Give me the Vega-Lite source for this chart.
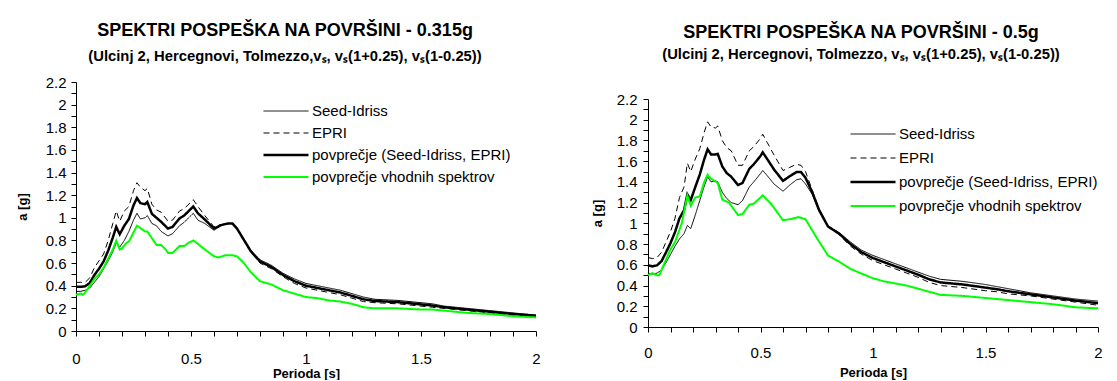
{
  "$schema": "https://vega.github.io/schema/vega-lite/v6.json",
  "background": "white",
  "padding": {"left": 16, "top": 22, "right": 5, "bottom": 0},
  "spacing": 50,
  "resolve": {
    "scale": {"color": "independent", "strokeDash": "independent", "strokeWidth": "independent"},
    "legend": {"color": "independent", "strokeDash": "independent", "strokeWidth": "independent"}
  },
  "config": {
    "font": "Liberation Sans",
    "view": {"stroke": null},
    "axis": {
      "grid": false, "domainColor": "black", "tickColor": "black", "labelColor": "black", "titleColor": "black",
      "labelFont": "Liberation Sans", "labelFontSize": 15, "titleFont": "Liberation Sans", "titleFontSize": 13,
      "titleFontWeight": "bold", "tickSize": 5, "domainWidth": 1, "tickWidth": 1, "labelOverlap": false, "labelFlush": false
    },
    "legend": {
      "labelFont": "Liberation Sans", "labelColor": "black", "symbolType": "stroke", "symbolSize": 2025,
      "labelOffset": 2, "clipHeight": 16, "padding": 0, "labelLimit": 400, "labelFontSize": 15
    },
    "title": {
      "font": "Liberation Sans", "fontSize": 18, "fontWeight": "bold", "color": "black",
      "subtitleFont": "Liberation Sans", "subtitleFontSize": 14.8, "subtitleFontWeight": "bold", "subtitleColor": "black",
      "anchor": "middle", "frame": "group"
    }
  },
  "datasets": {
    "L": [
      {"T":0,"Seed-Idriss":0.35,"EPRI":0.43,"povprečje (Seed-Idriss, EPRI)":0.39},
      {"T":0.02,"Seed-Idriss":0.35,"EPRI":0.43,"povprečje (Seed-Idriss, EPRI)":0.39},
      {"T":0.04,"Seed-Idriss":0.36,"EPRI":0.43,"povprečje (Seed-Idriss, EPRI)":0.395},
      {"T":0.06,"Seed-Idriss":0.38,"EPRI":0.47,"povprečje (Seed-Idriss, EPRI)":0.425},
      {"T":0.08,"Seed-Idriss":0.43,"EPRI":0.56,"povprečje (Seed-Idriss, EPRI)":0.495},
      {"T":0.1,"Seed-Idriss":0.48,"EPRI":0.62,"povprečje (Seed-Idriss, EPRI)":0.55},
      {"T":0.12,"Seed-Idriss":0.55,"EPRI":0.68,"povprečje (Seed-Idriss, EPRI)":0.615},
      {"T":0.14,"Seed-Idriss":0.62,"EPRI":0.8,"povprečje (Seed-Idriss, EPRI)":0.71},
      {"T":0.16,"Seed-Idriss":0.7,"EPRI":0.95,"povprečje (Seed-Idriss, EPRI)":0.825},
      {"T":0.175,"Seed-Idriss":0.78,"EPRI":1.06,"povprečje (Seed-Idriss, EPRI)":0.92},
      {"T":0.19,"Seed-Idriss":0.74,"EPRI":0.97,"povprečje (Seed-Idriss, EPRI)":0.855},
      {"T":0.21,"Seed-Idriss":0.8,"EPRI":1.06,"povprečje (Seed-Idriss, EPRI)":0.93},
      {"T":0.23,"Seed-Idriss":0.88,"EPRI":1.1,"povprečje (Seed-Idriss, EPRI)":0.99},
      {"T":0.25,"Seed-Idriss":0.98,"EPRI":1.24,"povprečje (Seed-Idriss, EPRI)":1.11},
      {"T":0.265,"Seed-Idriss":1.04,"EPRI":1.31,"povprečje (Seed-Idriss, EPRI)":1.175},
      {"T":0.28,"Seed-Idriss":0.99,"EPRI":1.27,"povprečje (Seed-Idriss, EPRI)":1.13},
      {"T":0.3,"Seed-Idriss":1.0,"EPRI":1.24,"povprečje (Seed-Idriss, EPRI)":1.12},
      {"T":0.31,"Seed-Idriss":1.02,"EPRI":1.26,"povprečje (Seed-Idriss, EPRI)":1.14},
      {"T":0.33,"Seed-Idriss":0.95,"EPRI":1.12,"povprečje (Seed-Idriss, EPRI)":1.035},
      {"T":0.35,"Seed-Idriss":0.93,"EPRI":1.07,"povprečje (Seed-Idriss, EPRI)":1.0},
      {"T":0.37,"Seed-Idriss":0.88,"EPRI":1.05,"povprečje (Seed-Idriss, EPRI)":0.965},
      {"T":0.4,"Seed-Idriss":0.84,"EPRI":0.97,"povprečje (Seed-Idriss, EPRI)":0.905},
      {"T":0.42,"Seed-Idriss":0.86,"EPRI":0.98,"povprečje (Seed-Idriss, EPRI)":0.92},
      {"T":0.45,"Seed-Idriss":0.93,"EPRI":1.06,"povprečje (Seed-Idriss, EPRI)":0.995},
      {"T":0.47,"Seed-Idriss":0.96,"EPRI":1.08,"povprečje (Seed-Idriss, EPRI)":1.02},
      {"T":0.5,"Seed-Idriss":1.02,"EPRI":1.14,"povprečje (Seed-Idriss, EPRI)":1.08},
      {"T":0.51,"Seed-Idriss":1.04,"EPRI":1.16,"povprečje (Seed-Idriss, EPRI)":1.1},
      {"T":0.53,"Seed-Idriss":0.98,"EPRI":1.1,"povprečje (Seed-Idriss, EPRI)":1.04},
      {"T":0.56,"Seed-Idriss":0.95,"EPRI":1.02,"povprečje (Seed-Idriss, EPRI)":0.985},
      {"T":0.6,"Seed-Idriss":0.89,"EPRI":0.92,"povprečje (Seed-Idriss, EPRI)":0.905},
      {"T":0.63,"Seed-Idriss":0.93,"EPRI":0.94,"povprečje (Seed-Idriss, EPRI)":0.935},
      {"T":0.66,"Seed-Idriss":0.95,"EPRI":0.95,"povprečje (Seed-Idriss, EPRI)":0.95},
      {"T":0.68,"Seed-Idriss":0.95,"EPRI":0.95,"povprečje (Seed-Idriss, EPRI)":0.95},
      {"T":0.7,"Seed-Idriss":0.91,"EPRI":0.9,"povprečje (Seed-Idriss, EPRI)":0.905},
      {"T":0.73,"Seed-Idriss":0.81,"EPRI":0.8,"povprečje (Seed-Idriss, EPRI)":0.805},
      {"T":0.76,"Seed-Idriss":0.71,"EPRI":0.7,"povprečje (Seed-Idriss, EPRI)":0.705},
      {"T":0.8,"Seed-Idriss":0.63,"EPRI":0.6,"povprečje (Seed-Idriss, EPRI)":0.615},
      {"T":0.85,"Seed-Idriss":0.58,"EPRI":0.55,"povprečje (Seed-Idriss, EPRI)":0.565},
      {"T":0.9,"Seed-Idriss":0.51,"EPRI":0.48,"povprečje (Seed-Idriss, EPRI)":0.495},
      {"T":0.95,"Seed-Idriss":0.46,"EPRI":0.42,"povprečje (Seed-Idriss, EPRI)":0.44},
      {"T":1.0,"Seed-Idriss":0.42,"EPRI":0.38,"povprečje (Seed-Idriss, EPRI)":0.4},
      {"T":1.05,"Seed-Idriss":0.4,"EPRI":0.36,"povprečje (Seed-Idriss, EPRI)":0.38},
      {"T":1.1,"Seed-Idriss":0.38,"EPRI":0.34,"povprečje (Seed-Idriss, EPRI)":0.36},
      {"T":1.15,"Seed-Idriss":0.36,"EPRI":0.32,"povprečje (Seed-Idriss, EPRI)":0.34},
      {"T":1.2,"Seed-Idriss":0.33,"EPRI":0.29,"povprečje (Seed-Idriss, EPRI)":0.31},
      {"T":1.25,"Seed-Idriss":0.3,"EPRI":0.26,"povprečje (Seed-Idriss, EPRI)":0.28},
      {"T":1.3,"Seed-Idriss":0.28,"EPRI":0.25,"povprečje (Seed-Idriss, EPRI)":0.265},
      {"T":1.4,"Seed-Idriss":0.27,"EPRI":0.24,"povprečje (Seed-Idriss, EPRI)":0.255},
      {"T":1.5,"Seed-Idriss":0.25,"EPRI":0.22,"povprečje (Seed-Idriss, EPRI)":0.235},
      {"T":1.55,"Seed-Idriss":0.24,"EPRI":0.21,"povprečje (Seed-Idriss, EPRI)":0.225},
      {"T":1.6,"Seed-Idriss":0.22,"EPRI":0.2,"povprečje (Seed-Idriss, EPRI)":0.21},
      {"T":1.7,"Seed-Idriss":0.2,"EPRI":0.18,"povprečje (Seed-Idriss, EPRI)":0.19},
      {"T":1.8,"Seed-Idriss":0.18,"EPRI":0.16,"povprečje (Seed-Idriss, EPRI)":0.17},
      {"T":1.9,"Seed-Idriss":0.16,"EPRI":0.14,"povprečje (Seed-Idriss, EPRI)":0.15},
      {"T":2.0,"Seed-Idriss":0.14,"EPRI":0.13,"povprečje (Seed-Idriss, EPRI)":0.135}
    ],
    "Lg": [
      {"T":0,"povprečje vhodnih spektrov":0.32},{"T":0.02,"povprečje vhodnih spektrov":0.33},{"T":0.03,"povprečje vhodnih spektrov":0.32},
      {"T":0.04,"povprečje vhodnih spektrov":0.34},{"T":0.06,"povprečje vhodnih spektrov":0.4},{"T":0.08,"povprečje vhodnih spektrov":0.46},
      {"T":0.1,"povprečje vhodnih spektrov":0.5},{"T":0.12,"povprečje vhodnih spektrov":0.56},{"T":0.14,"povprečje vhodnih spektrov":0.64},
      {"T":0.16,"povprečje vhodnih spektrov":0.72},{"T":0.175,"povprečje vhodnih spektrov":0.8},{"T":0.19,"povprečje vhodnih spektrov":0.72},
      {"T":0.2,"povprečje vhodnih spektrov":0.73},{"T":0.22,"povprečje vhodnih spektrov":0.78},{"T":0.23,"povprečje vhodnih spektrov":0.79},
      {"T":0.25,"povprečje vhodnih spektrov":0.87},{"T":0.265,"povprečje vhodnih spektrov":0.93},{"T":0.28,"povprečje vhodnih spektrov":0.91},
      {"T":0.3,"povprečje vhodnih spektrov":0.88},{"T":0.31,"povprečje vhodnih spektrov":0.88},{"T":0.33,"povprečje vhodnih spektrov":0.82},
      {"T":0.35,"povprečje vhodnih spektrov":0.76},{"T":0.37,"povprečje vhodnih spektrov":0.76},{"T":0.39,"povprečje vhodnih spektrov":0.72},
      {"T":0.4,"povprečje vhodnih spektrov":0.69},{"T":0.42,"povprečje vhodnih spektrov":0.69},{"T":0.45,"povprečje vhodnih spektrov":0.75},
      {"T":0.47,"povprečje vhodnih spektrov":0.75},{"T":0.49,"povprečje vhodnih spektrov":0.78},{"T":0.51,"povprečje vhodnih spektrov":0.8},
      {"T":0.53,"povprečje vhodnih spektrov":0.77},{"T":0.56,"povprečje vhodnih spektrov":0.72},{"T":0.6,"povprečje vhodnih spektrov":0.66},
      {"T":0.62,"povprečje vhodnih spektrov":0.65},{"T":0.65,"povprečje vhodnih spektrov":0.67},{"T":0.68,"povprečje vhodnih spektrov":0.67},
      {"T":0.7,"povprečje vhodnih spektrov":0.66},{"T":0.73,"povprečje vhodnih spektrov":0.6},{"T":0.76,"povprečje vhodnih spektrov":0.52},
      {"T":0.8,"povprečje vhodnih spektrov":0.44},{"T":0.85,"povprečje vhodnih spektrov":0.41},{"T":0.9,"povprečje vhodnih spektrov":0.36},
      {"T":0.95,"povprečje vhodnih spektrov":0.33},{"T":1.0,"povprečje vhodnih spektrov":0.3},{"T":1.05,"povprečje vhodnih spektrov":0.29},
      {"T":1.1,"povprečje vhodnih spektrov":0.27},{"T":1.15,"povprečje vhodnih spektrov":0.26},{"T":1.2,"povprečje vhodnih spektrov":0.24},
      {"T":1.25,"povprečje vhodnih spektrov":0.21},{"T":1.3,"povprečje vhodnih spektrov":0.2},{"T":1.4,"povprečje vhodnih spektrov":0.2},
      {"T":1.5,"povprečje vhodnih spektrov":0.19},{"T":1.55,"povprečje vhodnih spektrov":0.19},{"T":1.6,"povprečje vhodnih spektrov":0.18},
      {"T":1.7,"povprečje vhodnih spektrov":0.16},{"T":1.8,"povprečje vhodnih spektrov":0.15},{"T":1.9,"povprečje vhodnih spektrov":0.13},
      {"T":2.0,"povprečje vhodnih spektrov":0.12}
    ],
    "R": [
      {"T":0,"Seed-Idriss":0.52,"EPRI":0.67,"povprečje (Seed-Idriss, EPRI)":0.595},
      {"T":0.02,"Seed-Idriss":0.51,"EPRI":0.66,"povprečje (Seed-Idriss, EPRI)":0.585},
      {"T":0.04,"Seed-Idriss":0.52,"EPRI":0.67,"povprečje (Seed-Idriss, EPRI)":0.595},
      {"T":0.06,"Seed-Idriss":0.55,"EPRI":0.72,"povprečje (Seed-Idriss, EPRI)":0.635},
      {"T":0.08,"Seed-Idriss":0.62,"EPRI":0.82,"povprečje (Seed-Idriss, EPRI)":0.72},
      {"T":0.1,"Seed-Idriss":0.7,"EPRI":0.92,"povprečje (Seed-Idriss, EPRI)":0.81},
      {"T":0.12,"Seed-Idriss":0.78,"EPRI":1.05,"povprečje (Seed-Idriss, EPRI)":0.915},
      {"T":0.14,"Seed-Idriss":0.85,"EPRI":1.25,"povprečje (Seed-Idriss, EPRI)":1.05},
      {"T":0.16,"Seed-Idriss":0.9,"EPRI":1.35,"povprečje (Seed-Idriss, EPRI)":1.125},
      {"T":0.175,"Seed-Idriss":0.98,"EPRI":1.58,"povprečje (Seed-Idriss, EPRI)":1.28},
      {"T":0.19,"Seed-Idriss":0.95,"EPRI":1.5,"povprečje (Seed-Idriss, EPRI)":1.225},
      {"T":0.21,"Seed-Idriss":1.08,"EPRI":1.62,"povprečje (Seed-Idriss, EPRI)":1.35},
      {"T":0.23,"Seed-Idriss":1.22,"EPRI":1.72,"povprečje (Seed-Idriss, EPRI)":1.47},
      {"T":0.25,"Seed-Idriss":1.36,"EPRI":1.88,"povprečje (Seed-Idriss, EPRI)":1.62},
      {"T":0.265,"Seed-Idriss":1.45,"EPRI":1.98,"povprečje (Seed-Idriss, EPRI)":1.715},
      {"T":0.28,"Seed-Idriss":1.4,"EPRI":1.93,"povprečje (Seed-Idriss, EPRI)":1.665},
      {"T":0.3,"Seed-Idriss":1.41,"EPRI":1.92,"povprečje (Seed-Idriss, EPRI)":1.665},
      {"T":0.31,"Seed-Idriss":1.4,"EPRI":1.94,"povprečje (Seed-Idriss, EPRI)":1.67},
      {"T":0.33,"Seed-Idriss":1.3,"EPRI":1.8,"povprečje (Seed-Idriss, EPRI)":1.55},
      {"T":0.35,"Seed-Idriss":1.24,"EPRI":1.73,"povprečje (Seed-Idriss, EPRI)":1.485},
      {"T":0.37,"Seed-Idriss":1.2,"EPRI":1.7,"povprečje (Seed-Idriss, EPRI)":1.45},
      {"T":0.4,"Seed-Idriss":1.18,"EPRI":1.56,"povprečje (Seed-Idriss, EPRI)":1.37},
      {"T":0.42,"Seed-Idriss":1.22,"EPRI":1.56,"povprečje (Seed-Idriss, EPRI)":1.39},
      {"T":0.45,"Seed-Idriss":1.35,"EPRI":1.7,"povprečje (Seed-Idriss, EPRI)":1.525},
      {"T":0.47,"Seed-Idriss":1.4,"EPRI":1.74,"povprečje (Seed-Idriss, EPRI)":1.57},
      {"T":0.5,"Seed-Idriss":1.48,"EPRI":1.82,"povprečje (Seed-Idriss, EPRI)":1.65},
      {"T":0.51,"Seed-Idriss":1.51,"EPRI":1.86,"povprečje (Seed-Idriss, EPRI)":1.685},
      {"T":0.53,"Seed-Idriss":1.46,"EPRI":1.78,"povprečje (Seed-Idriss, EPRI)":1.62},
      {"T":0.56,"Seed-Idriss":1.38,"EPRI":1.66,"povprečje (Seed-Idriss, EPRI)":1.52},
      {"T":0.6,"Seed-Idriss":1.31,"EPRI":1.51,"povprečje (Seed-Idriss, EPRI)":1.41},
      {"T":0.63,"Seed-Idriss":1.37,"EPRI":1.54,"povprečje (Seed-Idriss, EPRI)":1.455},
      {"T":0.66,"Seed-Idriss":1.42,"EPRI":1.57,"povprečje (Seed-Idriss, EPRI)":1.495},
      {"T":0.68,"Seed-Idriss":1.43,"EPRI":1.56,"povprečje (Seed-Idriss, EPRI)":1.495},
      {"T":0.7,"Seed-Idriss":1.38,"EPRI":1.5,"povprečje (Seed-Idriss, EPRI)":1.44},
      {"T":0.73,"Seed-Idriss":1.28,"EPRI":1.32,"povprečje (Seed-Idriss, EPRI)":1.3},
      {"T":0.76,"Seed-Idriss":1.12,"EPRI":1.14,"povprečje (Seed-Idriss, EPRI)":1.13},
      {"T":0.8,"Seed-Idriss":0.97,"EPRI":0.97,"povprečje (Seed-Idriss, EPRI)":0.97},
      {"T":0.85,"Seed-Idriss":0.91,"EPRI":0.89,"povprečje (Seed-Idriss, EPRI)":0.9},
      {"T":0.9,"Seed-Idriss":0.82,"EPRI":0.78,"povprečje (Seed-Idriss, EPRI)":0.8},
      {"T":0.95,"Seed-Idriss":0.74,"EPRI":0.7,"povprečje (Seed-Idriss, EPRI)":0.72},
      {"T":1.0,"Seed-Idriss":0.69,"EPRI":0.64,"povprečje (Seed-Idriss, EPRI)":0.665},
      {"T":1.05,"Seed-Idriss":0.65,"EPRI":0.6,"povprečje (Seed-Idriss, EPRI)":0.625},
      {"T":1.1,"Seed-Idriss":0.61,"EPRI":0.56,"povprečje (Seed-Idriss, EPRI)":0.585},
      {"T":1.15,"Seed-Idriss":0.57,"EPRI":0.52,"povprečje (Seed-Idriss, EPRI)":0.545},
      {"T":1.2,"Seed-Idriss":0.53,"EPRI":0.48,"povprečje (Seed-Idriss, EPRI)":0.505},
      {"T":1.25,"Seed-Idriss":0.49,"EPRI":0.43,"povprečje (Seed-Idriss, EPRI)":0.46},
      {"T":1.3,"Seed-Idriss":0.46,"EPRI":0.4,"povprečje (Seed-Idriss, EPRI)":0.43},
      {"T":1.4,"Seed-Idriss":0.44,"EPRI":0.38,"povprečje (Seed-Idriss, EPRI)":0.41},
      {"T":1.5,"Seed-Idriss":0.41,"EPRI":0.35,"povprečje (Seed-Idriss, EPRI)":0.38},
      {"T":1.55,"Seed-Idriss":0.39,"EPRI":0.34,"povprečje (Seed-Idriss, EPRI)":0.365},
      {"T":1.6,"Seed-Idriss":0.37,"EPRI":0.32,"povprečje (Seed-Idriss, EPRI)":0.345},
      {"T":1.7,"Seed-Idriss":0.33,"EPRI":0.3,"povprečje (Seed-Idriss, EPRI)":0.315},
      {"T":1.8,"Seed-Idriss":0.3,"EPRI":0.27,"povprečje (Seed-Idriss, EPRI)":0.285},
      {"T":1.9,"Seed-Idriss":0.27,"EPRI":0.24,"povprečje (Seed-Idriss, EPRI)":0.255},
      {"T":2.0,"Seed-Idriss":0.25,"EPRI":0.21,"povprečje (Seed-Idriss, EPRI)":0.23}
    ],
    "Rg": [
      {"T":0,"povprečje vhodnih spektrov":0.5},{"T":0.02,"povprečje vhodnih spektrov":0.52},{"T":0.04,"povprečje vhodnih spektrov":0.5},
      {"T":0.05,"povprečje vhodnih spektrov":0.5},{"T":0.07,"povprečje vhodnih spektrov":0.6},{"T":0.1,"povprečje vhodnih spektrov":0.75},
      {"T":0.12,"povprečje vhodnih spektrov":0.82},{"T":0.15,"povprečje vhodnih spektrov":1.0},{"T":0.175,"povprečje vhodnih spektrov":1.27},
      {"T":0.19,"povprečje vhodnih spektrov":1.17},{"T":0.21,"povprečje vhodnih spektrov":1.25},{"T":0.23,"povprečje vhodnih spektrov":1.26},
      {"T":0.25,"povprečje vhodnih spektrov":1.4},{"T":0.265,"povprečje vhodnih spektrov":1.47},{"T":0.28,"povprečje vhodnih spektrov":1.43},
      {"T":0.31,"povprečje vhodnih spektrov":1.39},{"T":0.33,"povprečje vhodnih spektrov":1.23},{"T":0.36,"povprečje vhodnih spektrov":1.2},
      {"T":0.4,"povprečje vhodnih spektrov":1.08},{"T":0.42,"povprečje vhodnih spektrov":1.09},{"T":0.45,"povprečje vhodnih spektrov":1.18},
      {"T":0.47,"povprečje vhodnih spektrov":1.19},{"T":0.51,"povprečje vhodnih spektrov":1.27},{"T":0.55,"povprečje vhodnih spektrov":1.18},
      {"T":0.6,"povprečje vhodnih spektrov":1.03},{"T":0.63,"povprečje vhodnih spektrov":1.04},{"T":0.67,"povprečje vhodnih spektrov":1.06},
      {"T":0.7,"povprečje vhodnih spektrov":1.04},{"T":0.75,"povprečje vhodnih spektrov":0.86},{"T":0.8,"povprečje vhodnih spektrov":0.69},
      {"T":0.85,"povprečje vhodnih spektrov":0.63},{"T":0.9,"povprečje vhodnih spektrov":0.56},{"T":1.0,"povprečje vhodnih spektrov":0.47},
      {"T":1.05,"povprečje vhodnih spektrov":0.44},{"T":1.1,"povprečje vhodnih spektrov":0.42},{"T":1.15,"povprečje vhodnih spektrov":0.4},
      {"T":1.2,"povprečje vhodnih spektrov":0.37},{"T":1.3,"povprečje vhodnih spektrov":0.31},{"T":1.4,"povprečje vhodnih spektrov":0.3},
      {"T":1.5,"povprečje vhodnih spektrov":0.28},{"T":1.6,"povprečje vhodnih spektrov":0.26},{"T":1.7,"povprečje vhodnih spektrov":0.24},
      {"T":1.8,"povprečje vhodnih spektrov":0.22},{"T":1.9,"povprečje vhodnih spektrov":0.19},{"T":2.0,"povprečje vhodnih spektrov":0.18}
    ]
  },
  "hconcat": [
    {
      "title": {
        "text": "SPEKTRI POSPEŠKA NA POVRŠINI - 0.315g",
        "subtitle": "(Ulcinj 2, Hercegnovi, Tolmezzo,vₛ, vₛ(1+0.25), vₛ(1-0.25))",
        "subtitlePadding": 9, "offset": 11, "dx": -21
      },
      "width": 460,
      "height": 249,
      "encoding": {
        "x": {"field": "T", "type": "quantitative", "scale": {"domain": [0, 2], "nice": false, "zero": false},
          "axis": {"title": "Perioda [s]", "values": [0,0.1,0.2,0.3,0.4,0.5,0.6,0.7,0.8,0.9,1,1.1,1.2,1.3,1.4,1.5,1.6,1.7,1.8,1.9,2],
            "labelExpr": "round(datum.value*10) % 5 == 0 ? '' + datum.value : ''", "labelPadding": 15, "titlePadding": 1}},
        "y": {"field": "a", "type": "quantitative", "scale": {"domain": [0, 2.2], "nice": false},
          "axis": {"title": "a [g]", "values": [0,0.1,0.2,0.3,0.4,0.5,0.6,0.7,0.8,0.9,1,1.1,1.2,1.3,1.4,1.5,1.6,1.7,1.8,1.9,2,2.1,2.2],
            "labelExpr": "round(datum.value*10) % 2 == 0 ? '' + datum.value : ''", "labelPadding": 5, "titlePadding": 16}},
        "color": {"field": "s", "type": "nominal",
          "scale": {"domain": ["Seed-Idriss", "EPRI", "povprečje (Seed-Idriss, EPRI)", "povprečje vhodnih spektrov"], "range": ["black", "black", "black", "#00ff00"]},
          "legend": {"title": null, "orient": "none", "legendX": 186, "legendY": 21, "rowPadding": 6}},
        "strokeDash": {"field": "s", "type": "nominal",
          "scale": {"domain": ["Seed-Idriss", "EPRI", "povprečje (Seed-Idriss, EPRI)", "povprečje vhodnih spektrov"], "range": [[1,0], [6,4], [1,0], [1,0]]},
          "legend": {"title": null, "orient": "none", "legendX": 186, "legendY": 21, "rowPadding": 6}},
        "strokeWidth": {"field": "s", "type": "nominal",
          "scale": {"type": "ordinal", "domain": ["Seed-Idriss", "EPRI", "povprečje (Seed-Idriss, EPRI)", "povprečje vhodnih spektrov"], "range": [1, 1, 2.5, 2]},
          "legend": {"title": null, "orient": "none", "legendX": 186, "legendY": 21, "rowPadding": 6}}
      },
      "layer": [
        {"data": {"name": "L"}, "transform": [{"fold": ["Seed-Idriss", "EPRI", "povprečje (Seed-Idriss, EPRI)"], "as": ["s", "a"]}], "mark": {"type": "line"}},
        {"data": {"name": "Lg"}, "transform": [{"fold": ["povprečje vhodnih spektrov"], "as": ["s", "a"]}], "mark": {"type": "line"}}
      ]
    },
    {
      "title": {
        "text": "SPEKTRI POSPEŠKA NA POVRŠINI -  0.5g",
        "subtitle": "(Ulcinj 2, Hercegnovi, Tolmezzo, vₛ, vₛ(1+0.25), vₛ(1-0.25))",
        "subtitlePadding": 5, "offset": 20, "dx": -12
      },
      "width": 450,
      "height": 245,
      "encoding": {
        "x": {"field": "T", "type": "quantitative", "scale": {"domain": [0, 2], "nice": false, "zero": false},
          "axis": {"title": "Perioda [s]", "values": [0,0.1,0.2,0.3,0.4,0.5,0.6,0.7,0.8,0.9,1,1.1,1.2,1.3,1.4,1.5,1.6,1.7,1.8,1.9,2],
            "labelExpr": "round(datum.value*10) % 5 == 0 ? '' + datum.value : ''", "labelPadding": 13, "titlePadding": 6}},
        "y": {"field": "a", "type": "quantitative", "scale": {"domain": [0, 2.2], "nice": false, "range": [245, 17]},
          "axis": {"title": "a [g]", "values": [0,0.1,0.2,0.3,0.4,0.5,0.6,0.7,0.8,0.9,1,1.1,1.2,1.3,1.4,1.5,1.6,1.7,1.8,1.9,2,2.1,2.2],
            "labelExpr": "round(datum.value*10) % 2 == 0 ? '' + datum.value : ''", "labelPadding": 6, "titlePadding": 12}},
        "color": {"field": "s", "type": "nominal",
          "scale": {"domain": ["Seed-Idriss", "EPRI", "povprečje (Seed-Idriss, EPRI)", "povprečje vhodnih spektrov"], "range": ["black", "black", "black", "#00ff00"]},
          "legend": {"title": null, "orient": "none", "legendX": 201, "legendY": 44, "rowPadding": 8}},
        "strokeDash": {"field": "s", "type": "nominal",
          "scale": {"domain": ["Seed-Idriss", "EPRI", "povprečje (Seed-Idriss, EPRI)", "povprečje vhodnih spektrov"], "range": [[1,0], [6,4], [1,0], [1,0]]},
          "legend": {"title": null, "orient": "none", "legendX": 201, "legendY": 44, "rowPadding": 8}},
        "strokeWidth": {"field": "s", "type": "nominal",
          "scale": {"type": "ordinal", "domain": ["Seed-Idriss", "EPRI", "povprečje (Seed-Idriss, EPRI)", "povprečje vhodnih spektrov"], "range": [1, 1, 2.5, 2]},
          "legend": {"title": null, "orient": "none", "legendX": 201, "legendY": 44, "rowPadding": 8}}
      },
      "layer": [
        {"data": {"name": "R"}, "transform": [{"fold": ["Seed-Idriss", "EPRI", "povprečje (Seed-Idriss, EPRI)"], "as": ["s", "a"]}], "mark": {"type": "line"}},
        {"data": {"name": "Rg"}, "transform": [{"fold": ["povprečje vhodnih spektrov"], "as": ["s", "a"]}], "mark": {"type": "line"}}
      ]
    }
  ]
}
